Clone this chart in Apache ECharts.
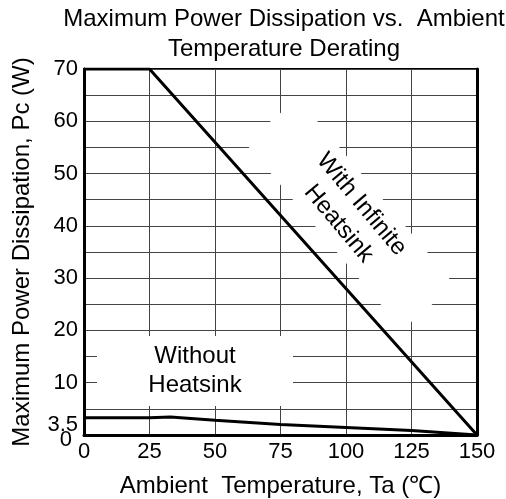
<!DOCTYPE html>
<html>
<head>
<meta charset="utf-8">
<script src="https://cdn.jsdelivr.net/npm/echarts@6/dist/echarts.min.js"></script>
<style>
html, body { margin: 0; padding: 0; background: #fff; }
#derating_chart { width: 506px; height: 499px; }
</style>
</head>
<body>
<div id="derating_chart"></div>
<script>
// values
const temperatureTicks = [0, 25, 50, 75, 100, 125, 150]
const powerTickLabels = [3.5, 10, 20, 30, 40, 50, 60, 70]
const powerZeroLabel = [0]
const infiniteHeatsinkTemp = [0, 25, 150]
const infiniteHeatsinkPower = [70, 70, 0]
const noHeatsinkTemp = [0, 25, 33, 50, 75, 100, 125, 150]
const noHeatsinkPower = [3.3, 3.3, 3.45, 2.8, 2.0, 1.45, 0.85, 0]

const fontFamily = "'Liberation Sans', Arial, sans-serif"
const black = "#000"

const pairs = (xs, ys) => xs.map((x, i) => [x, ys[i]])

const chart = echarts.init(document.getElementById("derating_chart"))

chart.setOption({
	animation: false,
	backgroundColor: "#fff",
	title: {
		text: "Maximum Power Dissipation vs.  Ambient\nTemperature Derating",
		left: 284,
		top: 4,
		padding: 0,
		textAlign: "center",
		textStyle: {
			fontFamily,
			fontSize: 24,
			fontWeight: "normal",
			color: black,
			lineHeight: 30,
		},
	},
	grid: {
		left: 84,
		right: 29,
		top: 69,
		bottom: 64,
		outerBoundsMode: "none",
		show: true,
		borderColor: black,
		borderWidth: 2,
	},
	xAxis: {
		type: "value",
		min: temperatureTicks[0],
		max: temperatureTicks[temperatureTicks.length - 1],
		interval: 25,
		axisLine: { show: true, lineStyle: { color: black, width: 3 } },
		axisTick: { show: false },
		splitLine: { show: true, lineStyle: { color: "#444", width: 1 } },
		axisLabel: { margin: 6, fontSize: 22, fontFamily, color: black, showMinLabel: true, hideOverlap: false },
		name: "Ambient  Temperature, Ta (℃)",
		nameLocation: "middle",
		nameGap: 39,
		nameTextStyle: { fontSize: 24, fontFamily, color: black },
	},
	yAxis: [
		{
			type: "value",
			min: 0,
			max: 70,
			interval: 5,
			axisLine: { show: true, lineStyle: { color: black, width: 3 } },
			axisTick: { show: false },
			splitLine: { show: true, lineStyle: { color: "#444", width: 1 } },
			axisLabel: {
				customValues: powerTickLabels,
				hideOverlap: false,
				margin: 6,
				fontSize: 22,
				fontFamily,
				color: black,
				formatter: (v) => (v === 3.5 ? "{t|3.5}" : String(v)),
				rich: {
					t: { fontSize: 22, fontFamily, color: black, padding: [16, 0, 0, 0] },
				},
			},
			name: "Maximum Power Dissipation, Pc (W)",
			nameLocation: "middle",
			nameGap: 50,
			nameTextStyle: { fontSize: 24, fontFamily, color: black },
		},
		{
			type: "value",
			position: "right",
			min: 0,
			max: 70,
			interval: 5,
			axisLine: { show: true, lineStyle: { color: black, width: 3 } },
			axisTick: { show: false },
			axisLabel: { show: false },
			splitLine: { show: false },
		},
		{
			// separate axis only for the "0" label, so it is not dropped next to 3.5
			type: "value",
			position: "left",
			min: 0,
			max: 70,
			axisLine: { show: false },
			axisTick: { show: false },
			splitLine: { show: false },
			axisLabel: {
				customValues: powerZeroLabel,
				showMinLabel: true,
				margin: 6,
				fontSize: 22,
				fontFamily,
				color: black,
				formatter: "{z|{value}}",
				rich: {
					z: { fontSize: 22, fontFamily, color: black, padding: [10, 6, 0, 0] },
				},
			},
		},
	],
	graphic: [
		{
			type: "group",
			x: 350,
			y: 214,
			rotation: (-50 * Math.PI) / 180,
			children: [
				{
					type: "rect",
					z: 1,
					shape: { x: -122, y: -34.5, width: 244, height: 69 },
					style: { fill: "#fff" },
				},
				{
					type: "text",
					z: 1,
					style: {
						text: "With Infinite\nHeatsink",
						x: 0,
						y: 0,
						align: "center",
						verticalAlign: "middle",
						fontSize: 24,
						fontFamily,
						lineHeight: 30,
						fill: black,
					},
				},
			],
		},
		{
			type: "group",
			x: 195,
			y: 371,
			children: [
				{
					type: "rect",
					z: 1,
					shape: { x: -98, y: -35, width: 196, height: 70 },
					style: { fill: "#fff" },
				},
				{
					type: "text",
					z: 1,
					style: {
						text: "Without\nHeatsink",
						x: 0,
						y: 0,
						align: "center",
						verticalAlign: "middle",
						fontSize: 24,
						fontFamily,
						lineHeight: 29,
						fill: black,
					},
				},
			],
		},
	],
	series: [
		{
			name: "With Infinite Heatsink",
			type: "line",
			data: pairs(infiniteHeatsinkTemp, infiniteHeatsinkPower),
			symbol: "none",
			z: 3,
			lineStyle: { color: black, width: 3 },
		},
		{
			name: "Without Heatsink",
			type: "line",
			data: pairs(noHeatsinkTemp, noHeatsinkPower),
			symbol: "none",
			z: 3,
			lineStyle: { color: black, width: 3 },
		},
	],
})
</script>
</body>
</html>
